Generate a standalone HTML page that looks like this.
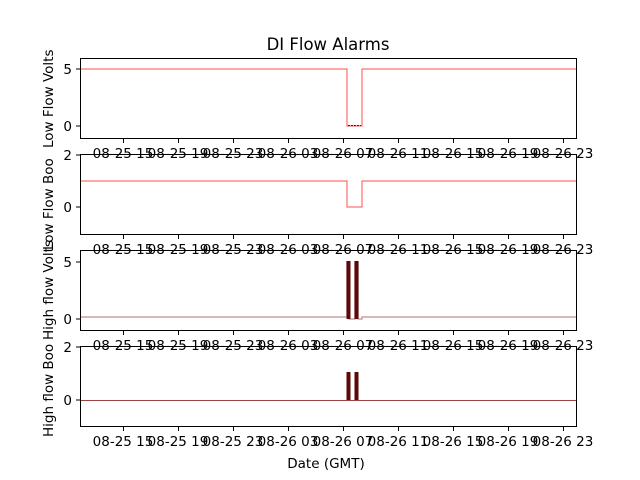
<!DOCTYPE html>
<html><head><meta charset="utf-8"><style>body{margin:0;background:#fff}svg{display:block}text{font-family:"DejaVu Sans","Liberation Sans",sans-serif;fill:#000}</style></head><body>
<svg width="640" height="480" viewBox="0 0 640 480" xmlns="http://www.w3.org/2000/svg">
<rect width="640" height="480" fill="#fff"/>
<text x="328" y="50" font-size="16.5" text-anchor="middle">DI Flow Alarms</text>
<polyline points="80,69 347,69 347,126 362,126 362,69 576,69" fill="none" stroke="#ff4d4d" stroke-width="1"/>
<line x1="348" y1="125.5" x2="361" y2="125.5" stroke="#800" stroke-width="1" stroke-dasharray="2,1"/>
<polyline points="80,181 347,181 347,207 362,207 362,181 576,181" fill="none" stroke="#ff4d4d" stroke-width="1"/>
<polyline points="80,317 347,317 347,262 349,262 349,319 355,319 355,262 358,262 358,319 362,319 362,317 576,317" fill="none" stroke="#c8a0a0" stroke-width="1.5"/>
<g stroke="#5a0808" stroke-width="2" fill="none"><polyline points="347.5,319 347.5,262 349.5,262 349.5,319"/><polyline points="355.5,319 355.5,262 357.5,262 357.5,319"/></g>
<line x1="80" y1="400.5" x2="576" y2="400.5" stroke="#a04040" stroke-width="1"/>
<g stroke="#5a0808" stroke-width="2" fill="none"><polyline points="347.5,400 347.5,373 349.5,373 349.5,400"/><polyline points="355.5,400 355.5,373 357.5,373 357.5,400"/></g>
<g fill="none" stroke="#000" stroke-width="1">
<rect x="80.5" y="58.5" width="496" height="80"/>
<rect x="80.5" y="154.5" width="496" height="80"/>
<rect x="80.5" y="250.5" width="496" height="80"/>
<rect x="80.5" y="346.5" width="496" height="80"/>
</g>
<g stroke="#000" stroke-width="1">
<line x1="76" y1="69" x2="80" y2="69"/><line x1="76" y1="126" x2="80" y2="126"/>
<line x1="76" y1="155" x2="80" y2="155"/><line x1="76" y1="207" x2="80" y2="207"/>
<line x1="76" y1="262" x2="80" y2="262"/><line x1="76" y1="319" x2="80" y2="319"/>
<line x1="76" y1="347" x2="80" y2="347"/><line x1="76" y1="400" x2="80" y2="400"/>
</g>
<g font-size="13.5" text-anchor="end">
<text x="72" y="74">5</text><text x="72" y="131">0</text>
<text x="72" y="160">2</text><text x="72" y="212">0</text>
<text x="72" y="267">5</text><text x="72" y="324">0</text>
<text x="72" y="352">2</text><text x="72" y="405">0</text>
</g>
<g stroke="#000" stroke-width="1">
<path d="M123.5,139v4M178.5,139v4M233.5,139v4M288.5,139v4M343.5,139v4M398.5,139v4M453.5,139v4M508.5,139v4M563.5,139v4"/>
<path d="M123.5,235v4M178.5,235v4M233.5,235v4M288.5,235v4M343.5,235v4M398.5,235v4M453.5,235v4M508.5,235v4M563.5,235v4"/>
<path d="M123.5,331v4M178.5,331v4M233.5,331v4M288.5,331v4M343.5,331v4M398.5,331v4M453.5,331v4M508.5,331v4M563.5,331v4"/>
<path d="M123.5,427v4M178.5,427v4M233.5,427v4M288.5,427v4M343.5,427v4M398.5,427v4M453.5,427v4M508.5,427v4M563.5,427v4"/>
</g>
<g font-size="13.5" text-anchor="middle">
<g transform="translate(0,158)"><text x="123">08-25 15</text><text x="178">08-25 19</text><text x="233">08-25 23</text><text x="288">08-26 03</text><text x="343">08-26 07</text><text x="398">08-26 11</text><text x="453">08-26 15</text><text x="508">08-26 19</text><text x="563">08-26 23</text></g>
<g transform="translate(0,254)"><text x="123">08-25 15</text><text x="178">08-25 19</text><text x="233">08-25 23</text><text x="288">08-26 03</text><text x="343">08-26 07</text><text x="398">08-26 11</text><text x="453">08-26 15</text><text x="508">08-26 19</text><text x="563">08-26 23</text></g>
<g transform="translate(0,350)"><text x="123">08-25 15</text><text x="178">08-25 19</text><text x="233">08-25 23</text><text x="288">08-26 03</text><text x="343">08-26 07</text><text x="398">08-26 11</text><text x="453">08-26 15</text><text x="508">08-26 19</text><text x="563">08-26 23</text></g>
<g transform="translate(0,446)"><text x="123">08-25 15</text><text x="178">08-25 19</text><text x="233">08-25 23</text><text x="288">08-26 03</text><text x="343">08-26 07</text><text x="398">08-26 11</text><text x="453">08-26 15</text><text x="508">08-26 19</text><text x="563">08-26 23</text></g>
</g>
<g font-size="13.5">
<text transform="translate(53,148) rotate(-90)">Low Flow Volts</text>
<text transform="translate(53,250) rotate(-90)">Low Flow Boo</text>
<text transform="translate(53,340) rotate(-90)">High flow Volts</text>
<text transform="translate(53,437) rotate(-90)">High flow Boo</text>
</g>
<text x="326" y="468" font-size="13.5" text-anchor="middle">Date (GMT)</text>
</svg>
</body></html>
